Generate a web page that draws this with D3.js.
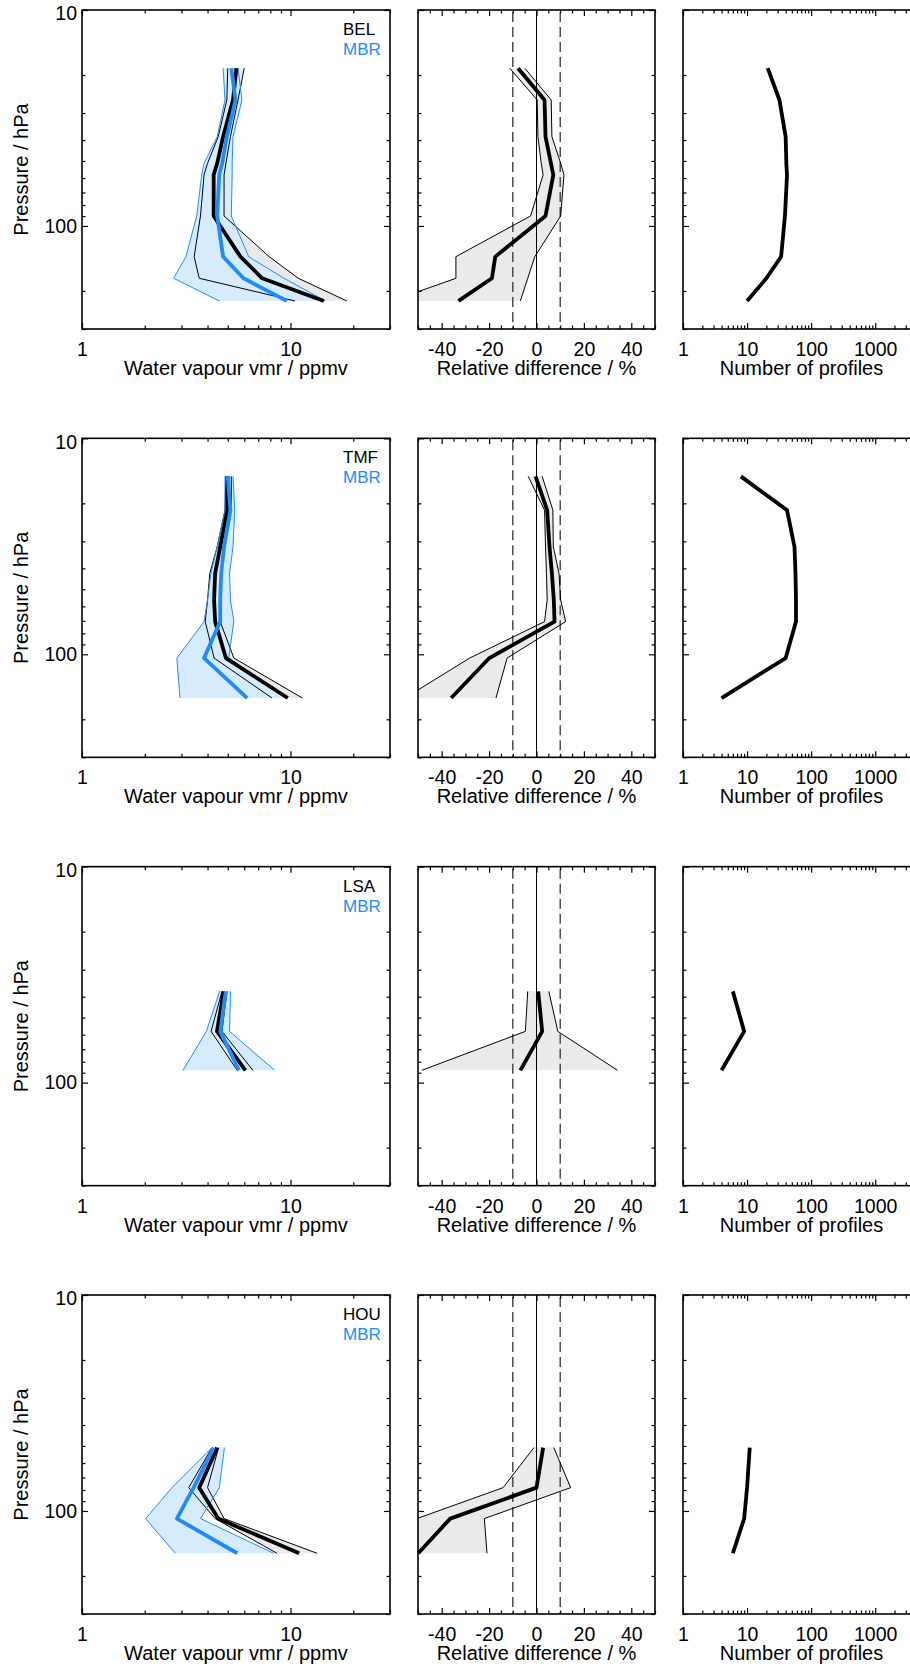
<!DOCTYPE html>
<html>
<head>
<meta charset="utf-8">
<script src="https://cdn.jsdelivr.net/npm/d3@7"></script>
<style>
  html, body { margin: 0; padding: 0; background: #fff; }
  svg text { font-family: "Liberation Sans", Arial, Helvetica, sans-serif; fill: #000; }
  .tick text { font-size: 19.5px; }
  .title { font-size: 20px; }
  .legend { font-size: 17px; }
</style>
</head>
<body>
<svg id="chart" width="910" height="1670"></svg>
<script>
// ---- Stations compared with the reference instrument (one row of panels each)
const stations = ["BEL", "TMF", "LSA", "HOU"];
const reference = "MBR";

// ---- BEL
const pressureBEL = [18.6, 26.1, 38.6, 51.3, 58.0, 89.9, 138.7, 174.7, 222.4];
const meanBEL = [5.50, 5.30, 4.75, 4.45, 4.28, 4.28, 5.75, 7.31, 14.45];
const lowBEL  = [5.00, 4.95, 4.50, 4.00, 3.85, 3.70, 3.45, 3.65, 10.5];
const highBEL = [6.00, 5.60, 5.15, 4.90, 4.80, 4.80, 7.90, 10.9, 18.6];
const refMeanBEL = [5.20, 5.45, 4.95, 4.70, 4.55, 4.45, 4.75, 5.95, 9.60];
const refLowBEL  = [4.75, 4.85, 4.45, 3.85, 3.75, 3.55, 3.15, 2.75, 4.55];
const refHighBEL = [5.60, 5.85, 5.30, 5.25, 5.25, 5.20, 6.30, 9.30, 14.7];
const diffMeanBEL = [-7.8, 3.4, 3.8, 6.1, 7.1, 3.8, -17.4, -18.8, -32.9];
const diffLowBEL  = [-11.3, 0.3, 0.6, 2.0, 2.8, -2.5, -34.0, -34.0, -61.0];
const diffHighBEL = [-4.9, 6.2, 6.5, 10.2, 11.6, 10.2, -0.7, -3.7, -6.8];
const countBEL = [21, 32, 40, 41, 42, 39, 34, 20, 10];

// ---- TMF
const pressureTMF = [15.0, 21.5, 31.8, 42.2, 56.0, 70.6, 104.1, 159.4];
const meanTMF = [5.00, 4.98, 4.60, 4.35, 4.30, 4.35, 4.90, 9.70];
const lowTMF  = [4.90, 4.85, 4.45, 4.10, 4.00, 3.90, 4.30, 8.15];
const highTMF = [5.20, 5.20, 4.75, 4.65, 4.60, 4.60, 5.35, 11.4];
const refMeanTMF = [5.00, 5.15, 4.80, 4.65, 4.60, 4.60, 3.85, 6.20];
const refLowTMF  = [4.85, 4.85, 4.45, 4.15, 4.00, 3.85, 2.85, 2.95];
const refHighTMF = [5.30, 5.40, 5.30, 5.10, 5.15, 5.35, 5.05, 9.60];
const diffMeanTMF = [-0.4, 4.5, 5.5, 6.5, 7.3, 7.6, -19.9, -36.0];
const diffLowTMF  = [-3.5, 3.4, 3.8, 4.2, 4.5, 3.4, -28.2, -55.5];
const diffHighTMF = [2.4, 6.9, 7.1, 9.5, 10.2, 12.3, -12.4, -17.1];
const countTMF = [8, 42, 55, 57, 58, 58, 40, 4];

// ---- LSA
const pressureLSA = [37.8, 57.9, 87.7];
const meanLSA = [4.78, 4.44, 6.08];
const lowLSA  = [4.69, 4.16, 5.55];
const highLSA = [4.96, 4.69, 6.60];
const refMeanLSA = [4.89, 4.61, 5.65];
const refLowLSA  = [4.57, 3.95, 3.05];
const refHighLSA = [5.15, 5.10, 8.40];
const diffMeanLSA = [0.7, 2.4, -6.8];
const diffLowLSA  = [-3.7, -4.7, -48.4];
const diffHighLSA = [5.2, 9.0, 34.2];
const countLSA = [6, 9, 4];

// ---- HOU
const pressureHOU = [50.9, 78.0, 108.5, 157.0];
const meanHOU = [4.45, 3.65, 4.50, 11.0];
const lowHOU  = [4.20, 3.25, 4.35, 8.60];
const highHOU = [4.52, 4.00, 4.80, 13.4];
const refMeanHOU = [4.28, 3.43, 2.85, 5.55];
const refLowHOU  = [4.20, 2.70, 2.02, 2.80];
const refHighHOU = [4.82, 4.56, 3.70, 8.30];
const diffMeanHOU = [2.8, 0.0, -36.4, -49.9];
const diffLowHOU  = [-1.1, -14.1, -50.5, -62.0];
const diffHighHOU = [7.3, 14.4, -22.0, -20.9];
const countHOU = [11, 10, 9, 6];

// ---- Axis ranges and ticks
const pressureRange = [10, 300];
const pressureMajor = [10, 100];
const pressureMinor = [20, 30, 40, 50, 60, 70, 80, 90, 200, 300];
const vmrRange = [1, 30];
const vmrMajor = [1, 10];
const vmrMinor = [2, 3, 4, 5, 6, 7, 8, 9, 20, 30];
const diffRange = [-50, 50];
const diffMajor = [-40, -20, 0, 20, 40];
const diffMinor = [-50, -45, -35, -30, -25, -15, -10, -5, 5, 10, 15, 25, 30, 35, 45, 50];
const diffSolid = [0];
const diffDashed = [-10, 10];
const countRange = [1, 5000];
const countMajor = [1, 10, 100, 1000];
const countMinor = [2, 3, 4, 5, 6, 7, 8, 9, 20, 30, 40, 50, 60, 70, 80, 90,
                    200, 300, 400, 500, 600, 700, 800, 900, 2000, 3000, 4000, 5000];

const titleVmr = "Water vapour vmr / ppmv";
const titleDiff = "Relative difference / %";
const titleCount = "Number of profiles";
const titlePressure = "Pressure / hPa";

const rows = [
  { name: stations[0], p: pressureBEL, mean: meanBEL, low: lowBEL, high: highBEL,
    refMean: refMeanBEL, refLow: refLowBEL, refHigh: refHighBEL,
    dMean: diffMeanBEL, dLow: diffLowBEL, dHigh: diffHighBEL, n: countBEL },
  { name: stations[1], p: pressureTMF, mean: meanTMF, low: lowTMF, high: highTMF,
    refMean: refMeanTMF, refLow: refLowTMF, refHigh: refHighTMF,
    dMean: diffMeanTMF, dLow: diffLowTMF, dHigh: diffHighTMF, n: countTMF },
  { name: stations[2], p: pressureLSA, mean: meanLSA, low: lowLSA, high: highLSA,
    refMean: refMeanLSA, refLow: refLowLSA, refHigh: refHighLSA,
    dMean: diffMeanLSA, dLow: diffLowLSA, dHigh: diffHighLSA, n: countLSA },
  { name: stations[3], p: pressureHOU, mean: meanHOU, low: lowHOU, high: highHOU,
    refMean: refMeanHOU, refLow: refLowHOU, refHigh: refHighHOU,
    dMean: diffMeanHOU, dLow: diffLowHOU, dHigh: diffHighHOU, n: countHOU }
];

// ---- Layout and styling
const panelH = 319;
const rowTop = i => 10 + i * 428.33;
const panelX = [82, 418, 683];
const panelW = [308, 237, 237];
const blue = "#1E8CFF";
const blueFill = "#D6ECFD";
const grayFill = "#EAEAEA";
const thick = 3.8, thin = 1;

const svg = d3.select("#chart");

const y = d3.scaleLog().domain(pressureRange).range([0, panelH]);
const xVmr = d3.scaleLog().domain(vmrRange).range([0, panelW[0]]);
const xDiff = d3.scaleLinear().domain(diffRange).range([0, panelW[1]]);
const xCount = d3.scaleLog().domain(countRange).range([0, panelW[2]]);

const fmt = d => String(d);

function profileLine(x) {
  return d3.line().x(d => x(d.v)).y(d => y(d.p));
}
function profileBand(x) {
  return d3.area().y(d => y(d.p)).x0(d => x(d.lo)).x1(d => x(d.hi));
}
function series(p, vals) { return p.map((pp, k) => ({ p: pp, v: vals[k] })); }
function bandData(p, lo, hi) { return p.map((pp, k) => ({ p: pp, lo: lo[k], hi: hi[k] })); }

function drawAxes(g, x, w, xMajor, xMinor, yLabels) {
  const style = sel => { sel.select(".domain").remove(); sel.selectAll("line").attr("stroke-width", 1.2); };
  // bottom
  g.append("g").attr("transform", `translate(0,${panelH})`)
    .call(d3.axisBottom(x).tickValues(xMajor).tickSize(-6).tickPadding(13).tickFormat(fmt)).call(style);
  g.append("g").attr("transform", `translate(0,${panelH})`)
    .call(d3.axisBottom(x).tickValues(xMinor).tickSize(-3.5).tickFormat("")).call(style);
  // top
  g.append("g").call(d3.axisTop(x).tickValues(xMajor).tickSize(-6).tickFormat("")).call(style);
  g.append("g").call(d3.axisTop(x).tickValues(xMinor).tickSize(-3.5).tickFormat("")).call(style);
  // left
  const left = g.append("g")
    .call(d3.axisLeft(y).tickValues(pressureMajor).tickSize(-6).tickPadding(5)
      .tickFormat(yLabels ? fmt : "")).call(style);
  left.selectAll(".tick text").filter(d => d === pressureRange[0]).attr("dy", "0.5em");
  g.append("g").call(d3.axisLeft(y).tickValues(pressureMinor).tickSize(-3.5).tickFormat("")).call(style);
  // right
  g.append("g").attr("transform", `translate(${w},0)`)
    .call(d3.axisRight(y).tickValues(pressureMajor).tickSize(-6).tickFormat("")).call(style);
  g.append("g").attr("transform", `translate(${w},0)`)
    .call(d3.axisRight(y).tickValues(pressureMinor).tickSize(-3.5).tickFormat("")).call(style);
  g.selectAll(".tick text").attr("font-size", null).attr("font-family", null);
  g.selectAll("g").attr("font-size", null).attr("font-family", null);
  // frame
  g.append("rect").attr("width", w).attr("height", panelH)
    .attr("fill", "none").attr("stroke", "#000").attr("stroke-width", 1.6);
}

function xTitle(g, w, text) {
  g.append("text").attr("class", "title").attr("x", w / 2).attr("y", panelH + 46)
    .attr("text-anchor", "middle").text(text);
}

rows.forEach((r, i) => {
  const top = rowTop(i);

  // ---------- Panel 1: water vapour profiles
  const g1 = svg.append("g").attr("transform", `translate(${panelX[0]},${top})`);
  const c1 = `clip-vmr-${i}`;
  g1.append("clipPath").attr("id", c1).append("rect").attr("width", panelW[0]).attr("height", panelH);
  const d1 = g1.append("g").attr("clip-path", `url(#${c1})`);
  const band1 = profileBand(xVmr), line1 = profileLine(xVmr);

  d1.append("path").datum(bandData(r.p, r.low, r.high)).attr("d", band1).attr("fill", grayFill);
  d1.append("path").datum(bandData(r.p, r.refLow, r.refHigh)).attr("d", band1).attr("fill", blueFill);
  [r.low, r.high].forEach(v => d1.append("path").datum(series(r.p, v)).attr("d", line1)
    .attr("fill", "none").attr("stroke", "#000").attr("stroke-width", thin));
  [r.refLow, r.refHigh].forEach(v => d1.append("path").datum(series(r.p, v)).attr("d", line1)
    .attr("fill", "none").attr("stroke", blue).attr("stroke-width", thin));
  d1.append("path").datum(series(r.p, r.mean)).attr("d", line1)
    .attr("fill", "none").attr("stroke", "#000").attr("stroke-width", thick).attr("stroke-linejoin", "round");
  d1.append("path").datum(series(r.p, r.refMean)).attr("d", line1)
    .attr("fill", "none").attr("stroke", blue).attr("stroke-width", thick).attr("stroke-linejoin", "round");

  drawAxes(g1, xVmr, panelW[0], vmrMajor, vmrMinor, true);
  xTitle(g1, panelW[0], titleVmr);
  g1.append("text").attr("class", "title")
    .attr("transform", `translate(-54,${panelH / 2}) rotate(-90)`)
    .attr("text-anchor", "middle").text(titlePressure);
  g1.append("text").attr("class", "legend").attr("x", 261).attr("y", 25).text(r.name);
  g1.append("text").attr("class", "legend").attr("x", 261).attr("y", 45)
    .style("fill", blue).text(reference);

  // ---------- Panel 2: relative difference
  const g2 = svg.append("g").attr("transform", `translate(${panelX[1]},${top})`);
  const c2 = `clip-diff-${i}`;
  g2.append("clipPath").attr("id", c2).append("rect").attr("width", panelW[1]).attr("height", panelH);
  const d2 = g2.append("g").attr("clip-path", `url(#${c2})`);
  const band2 = profileBand(xDiff), line2 = profileLine(xDiff);

  d2.append("path").datum(bandData(r.p, r.dLow, r.dHigh)).attr("d", band2).attr("fill", grayFill);
  diffSolid.forEach(v => d2.append("line").attr("x1", xDiff(v)).attr("x2", xDiff(v))
    .attr("y1", 0).attr("y2", panelH).attr("stroke", "#000").attr("stroke-width", 1));
  diffDashed.forEach(v => d2.append("line").attr("x1", xDiff(v)).attr("x2", xDiff(v))
    .attr("y1", 2).attr("y2", panelH).attr("stroke", "#333").attr("stroke-width", 1.3)
    .attr("stroke-dasharray", "10,5"));
  [r.dLow, r.dHigh].forEach(v => d2.append("path").datum(series(r.p, v)).attr("d", line2)
    .attr("fill", "none").attr("stroke", "#000").attr("stroke-width", thin));
  d2.append("path").datum(series(r.p, r.dMean)).attr("d", line2)
    .attr("fill", "none").attr("stroke", "#000").attr("stroke-width", thick).attr("stroke-linejoin", "round");

  drawAxes(g2, xDiff, panelW[1], diffMajor, diffMinor, false);
  xTitle(g2, panelW[1], titleDiff);

  // ---------- Panel 3: number of profiles
  const g3 = svg.append("g").attr("transform", `translate(${panelX[2]},${top})`);
  const c3 = `clip-count-${i}`;
  g3.append("clipPath").attr("id", c3).append("rect").attr("width", panelW[2]).attr("height", panelH);
  const d3g = g3.append("g").attr("clip-path", `url(#${c3})`);
  d3g.append("path").datum(series(r.p, r.n)).attr("d", profileLine(xCount))
    .attr("fill", "none").attr("stroke", "#000").attr("stroke-width", thick).attr("stroke-linejoin", "round");

  drawAxes(g3, xCount, panelW[2], countMajor, countMinor, false);
  xTitle(g3, panelW[2], titleCount);
});
</script>
</body>
</html>
